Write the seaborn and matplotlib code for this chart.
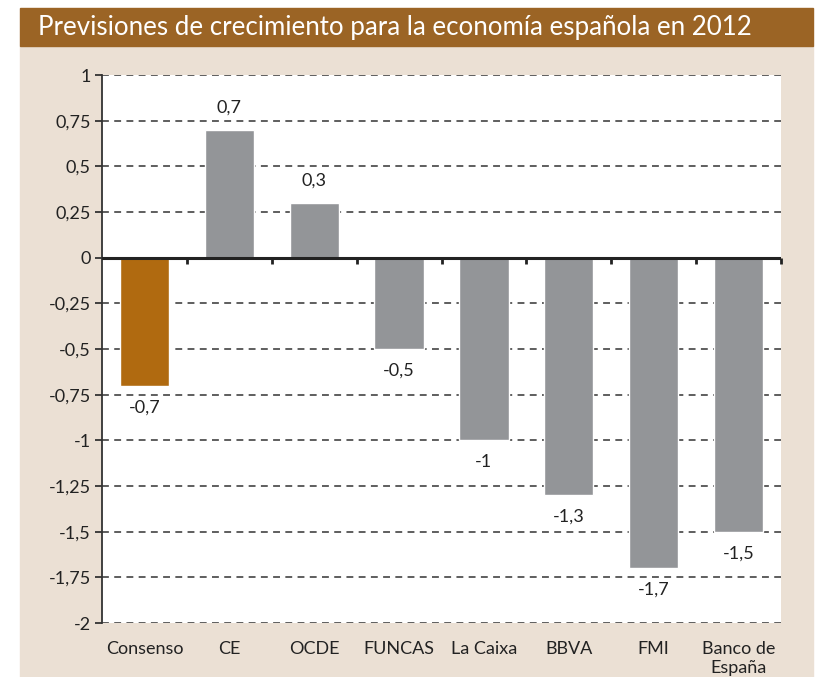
import matplotlib
matplotlib.use("Agg")
import matplotlib.pyplot as plt
import seaborn as sns
import pandas as pd

categorias = ["Consenso", "CE", "OCDE", "FUNCAS", "La Caixa", "BBVA", "FMI", "Banco de\nEspaña"]
previsiones = [-0.7, 0.7, 0.3, -0.5, -1.0, -1.3, -1.7, -1.5]
etiquetas = ["-0,7", "0,7", "0,3", "-0,5", "-1", "-1,3", "-1,7", "-1,5"]
colores = ["#B06A10", "#939598", "#939598", "#939598", "#939598", "#939598", "#939598", "#939598"]
y_ticks = [1, 0.75, 0.5, 0.25, 0, -0.25, -0.5, -0.75, -1, -1.25, -1.5, -1.75, -2]
titulo = "Previsiones de crecimiento para la economía española en 2012"

def fmt(v):
    s = f"{v:g}"
    return s.replace(".", ",")

sns.set_theme(style="white")
plt.rcParams["font.family"] = ["Lato", "DejaVu Sans"]

df = pd.DataFrame({"cat": categorias, "val": previsiones})

fig = plt.figure(figsize=(8.23, 6.77), dpi=100, facecolor="white")
W, H = 823, 677
# beige panel and brown title band
fig.patches.append(plt.Rectangle((20 / W, 0), 793 / W, (H - 46) / H, transform=fig.transFigure,
                                 color="#EBE0D4", zorder=-10))
fig.patches.append(plt.Rectangle((20 / W, (H - 46) / H), 793 / W, 38 / H, transform=fig.transFigure,
                                 color="#9B6425", zorder=-10))
fig.text(38 / W, 1 - 27 / H, titulo, color="white", fontsize=18.6, va="center", ha="left")

ax = fig.add_axes([102 / W, 1 - 623 / H, 679 / W, 548 / H])
ax.set_zorder(1)
ax.set_facecolor("white")

sns.barplot(data=df, x="cat", y="val", hue="cat", palette=colores, legend=False,
            width=0.58, saturation=1, ax=ax, zorder=3)

for cont, lab in zip(ax.containers, etiquetas):
    ax.bar_label(cont, labels=[lab], padding=10, fontsize=13, color="#222222")

ax.set_ylim(-2, 1)
ax.set_xlim(-0.5, len(categorias) - 0.5)
ax.set_yticks(y_ticks)
ax.set_yticklabels([fmt(t) for t in y_ticks], fontsize=13, color="#222222")
for t in y_ticks:
    if t != 0:
        ax.axhline(t, color="#333333", lw=1.1, ls=(0, (4.5, 3.5)), zorder=1)

ax.axhline(0, color="#222222", lw=2.2, zorder=4)
# little marks on the zero line between categories
ax.vlines([i + 0.5 for i in range(len(categorias))], -0.035, 0, color="#222222", lw=2, zorder=4,
          clip_on=False)

for s in ["top", "right", "bottom"]:
    ax.spines[s].set_visible(False)
ax.spines["left"].set_color("#333333")
ax.spines["left"].set_linewidth(1.3)
ax.tick_params(axis="y", left=True, length=5, width=1.3, color="#333333", pad=3)
ax.tick_params(axis="x", bottom=False, pad=7, labelsize=13, labelcolor="#222222")
ax.set_xlabel("")
ax.set_ylabel("")

plt.savefig("out.png", dpi=100, facecolor="white")
